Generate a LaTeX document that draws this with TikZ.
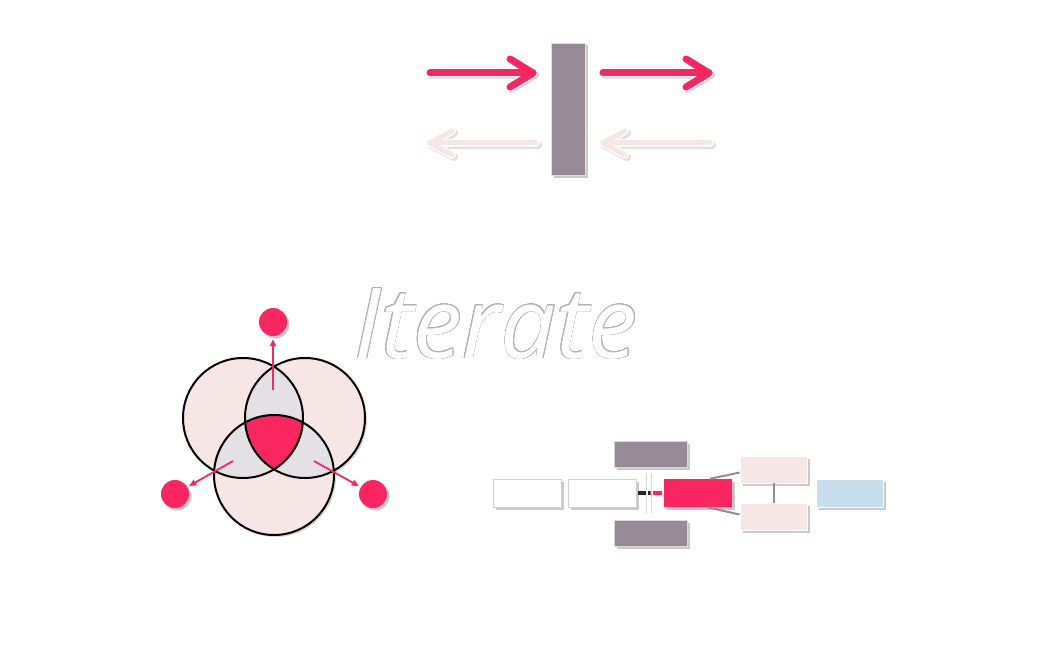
\documentclass[tikz,border=0pt]{standalone}
\usepackage{fontspec}
\newfontfamily\titlefont{Open Sans}
\usepackage{contour}
\usetikzlibrary{arrows.meta,shadows,calc}
\definecolor{hot}{HTML}{FB2562}
\definecolor{mauve}{HTML}{968B94}
\definecolor{blush}{HTML}{F6E6E6}
\definecolor{ash}{HTML}{E3E1E4}
\definecolor{sky}{HTML}{C8DEEC}
\tikzset{
  shd/.style={drop shadow={shadow xshift=2.5pt,shadow yshift=-2.5pt,opacity=0.35,fill=black!60}},
  box/.style={rectangle,minimum width=68pt,minimum height=28pt,inner sep=0pt,shd},
  whitebox/.style={box,fill=white,draw=black!18,line width=0.8pt},
  mauvebox/.style={box,fill=mauve,draw=black!15,line width=0.6pt,minimum width=73pt,minimum height=26pt},
  hotbox/.style={box,fill=hot},
  blushbox/.style={box,fill=blush,draw=white,line width=0.8pt,minimum width=67pt,minimum height=27pt},
  skybox/.style={box,fill=sky,draw=white,line width=0.8pt,minimum width=67pt},
  venn/.style={circle,minimum size=120pt,inner sep=0pt},
  dot/.style={circle,fill=hot,minimum size=28pt,inner sep=0pt,shd},
  varrow/.style={hot,line width=1.8pt,-{Triangle[length=7pt,width=6pt]}},
  fwd/.style={hot,line width=7pt,line cap=round,line join=round},
  back/.style={blush,line width=5pt,line cap=round,line join=round},
  backrim/.style={white,line width=8pt,line cap=round,line join=round},
  ghost/.style={black!25,line width=8pt,line cap=round,line join=round,opacity=0.5},
  link/.style={mauve,line width=2pt},
}
\begin{document}
\begin{tikzpicture}[x=1pt,y=-1pt]
\useasboundingbox (0,0) rectangle (1049,650);

% ---------- top: bar and arrows ----------
\node[rectangle,fill=mauve,draw=black!12,minimum width=34pt,minimum height=132pt,inner sep=0pt,shd] (bar) at (568,109) {};
% forward arrows
\coordinate (f1s) at (430,73); \coordinate (f1t) at (533,73);
\coordinate (f2s) at (603,73); \coordinate (f2t) at (709,73);
\foreach \s/\t in {f1s/f1t,f2s/f2t}{
  \draw[ghost] ($(\s)+(2,2)$) -- ($(\t)+(2,2)$);
  \draw[ghost] ($(\t)+(-21,-12)$) -- ($(\t)+(2,2)$) -- ($(\t)+(-21,16)$);
  \draw[white,line width=9pt,line cap=round,line join=round] (\s) -- (\t);
  \draw[white,line width=9pt,line cap=round,line join=round] ($(\t)+(-23,-14)$) -- (\t) -- ($(\t)+(-23,14)$);
  \draw[fwd] (\s) -- (\t);
  \draw[fwd] ($(\t)+(-23,-14)$) -- (\t) -- ($(\t)+(-23,14)$);
}
% backward arrows
\coordinate (b1s) at (536,143); \coordinate (b1t) at (430,143);
\coordinate (b2s) at (710,143); \coordinate (b2t) at (603,143);
\foreach \s/\t in {b1s/b1t,b2s/b2t}{
  \draw[ghost] ($(\s)+(2,2)$) -- ($(\t)+(2,2)$);
  \draw[ghost] ($(\t)+(24,-10)$) -- ($(\t)+(2,2)$) -- ($(\t)+(24,14)$);
  \draw[backrim] (\s) -- (\t);
  \draw[backrim] ($(\t)+(22,-12)$) -- (\t) -- ($(\t)+(22,12)$);
  \draw[back] (\s) -- (\t);
  \draw[back] ($(\t)+(22,-12)$) -- (\t) -- ($(\t)+(22,12)$);
}

% ---------- title ----------
\contourlength{0.6pt}
\contournumber{24}
\node[anchor=base,inner sep=0pt] (title) at (496,358)
  {\titlefont\itshape\fontsize{98}{100}\selectfont\contour{black!30}{\textcolor{white}{Iterate}}};

% ---------- venn ----------
\node[venn] (A) at (243,418) {};
\node[venn] (B) at (305,418) {};
\node[venn] (C) at (274,475) {};
\begin{scope}
  \fill[blush,drop shadow={shadow xshift=2pt,shadow yshift=-2pt,opacity=0.3}] (A.center) circle[radius=60pt];
  \fill[blush,drop shadow={shadow xshift=2pt,shadow yshift=-2pt,opacity=0.3}] (B.center) circle[radius=60pt];
  \fill[blush,drop shadow={shadow xshift=2pt,shadow yshift=-2pt,opacity=0.3}] (C.center) circle[radius=60pt];
  \fill[blush] (A.center) circle[radius=60pt];
  \fill[blush] (B.center) circle[radius=60pt];
\end{scope}
\begin{scope}
  \clip (A.center) circle[radius=60pt];
  \fill[ash] (B.center) circle[radius=60pt];
  \fill[ash] (C.center) circle[radius=60pt];
\end{scope}
\begin{scope}
  \clip (B.center) circle[radius=60pt];
  \fill[ash] (C.center) circle[radius=60pt];
\end{scope}
\begin{scope}
  \clip (A.center) circle[radius=60pt];
  \clip (B.center) circle[radius=60pt];
  \fill[hot] (C.center) circle[radius=60pt];
\end{scope}
\foreach \c in {A,B,C}{\draw[black,line width=2pt] (\c.center) circle[radius=60pt];}

\node[dot] (d1) at (273,322) {};
\node[dot] (d2) at (175,494) {};
\node[dot] (d3) at (373,494) {};
\coordinate (s1) at (273,390);
\coordinate (s2) at (233,461);
\coordinate (s3) at (314,461);
\draw[varrow,shorten >=3pt] (s1) -- (d1);
\draw[varrow,shorten >=2pt] (s2) -- (d2);
\draw[varrow,shorten >=2pt] (s3) -- (d3);

% ---------- bottom right flow ----------
\node[whitebox] (w1) at (527,493) {};
\node[whitebox] (w2) at (602.5,493) {};
\node[mauvebox] (g1) at (650.5,454.5) {};
\node[mauvebox] (g2) at (650.5,533) {};
\node[hotbox] (h) at (698,493) {};
\node[blushbox] (p1) at (773.5,469.5) {};
\node[blushbox] (p2) at (773.5,516.5) {};
\node[skybox] (s) at (849.5,493) {};

\coordinate (mid) at (650,493);
\draw[black!85,line width=3.5pt] ([xshift=1pt]w2.east) -- (mid);
\draw[hot,line width=3.5pt] (mid) -- ([xshift=-2pt]h.west);
\coordinate (v1a) at (647,473); \coordinate (v1b) at (647,513);
\coordinate (v2a) at (652,473); \coordinate (v2b) at (652,513);
\draw[black!15,line width=1.6pt] (v1a) -- (v1b);
\draw[black!15,line width=1.6pt] (v2a) -- (v2b);
\draw[white,line width=0.6pt] (v1a) -- (v1b);
\draw[white,line width=0.6pt] (v2a) -- (v2b);

\draw[link] ([xshift=12pt]h.north) -- ([yshift=-3pt]p1.west);
\draw[link] ([xshift=9pt]h.south) -- ([yshift=2pt]p2.west);
\draw[link] (p1.south) -- (p2.north);
\end{tikzpicture}
\end{document}
